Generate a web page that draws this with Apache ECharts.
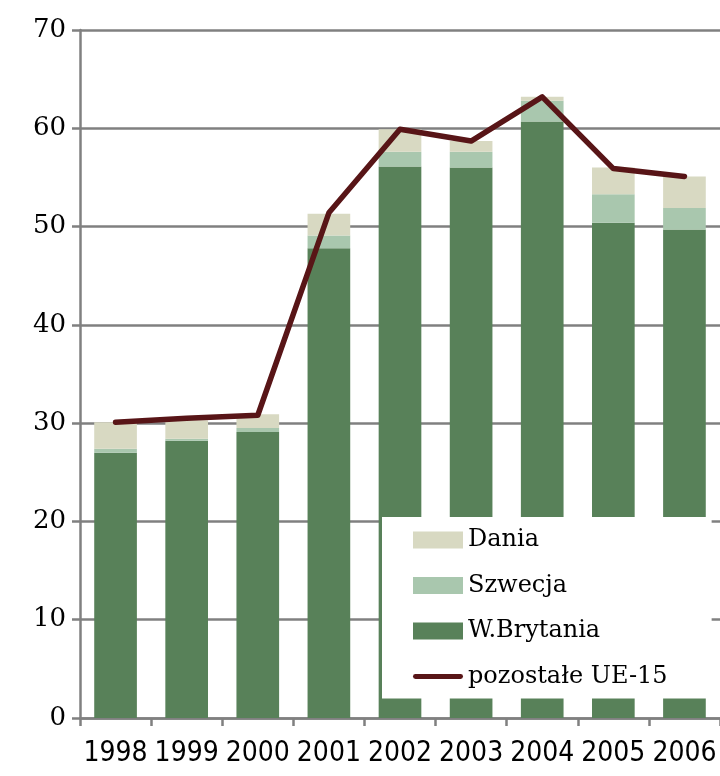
<!DOCTYPE html>
<html>
<head>
<meta charset="utf-8">
<script src="https://cdn.jsdelivr.net/npm/echarts@6/dist/echarts.min.js"></script>
<style>html,body{margin:0;padding:0;background:#fff}#c{width:720px;height:776px}</style>
</head>
<body>
<div id="c"></div>
<script>
const years = ['1998','1999','2000','2001','2002','2003','2004','2005','2006'];
const wBrytania = [27.0, 28.2, 29.1, 47.8, 56.1, 56.0, 60.7, 50.4, 49.7];
const szwecja = [0.4, 0.2, 0.4, 1.3, 1.5, 1.6, 2.1, 2.9, 2.2];
const dania = [2.7, 1.9, 1.4, 2.2, 2.3, 1.1, 0.4, 2.7, 3.2];
const pozostale = [30.1, 30.5, 30.8, 51.4, 59.9, 58.7, 63.2, 55.9, 55.1];
const yTicks = [0, 10, 20, 30, 40, 50, 60, 70];

const chart = echarts.init(document.getElementById('c'));
const gray = '#808080';
const lineColor = '#581517';
chart.setOption({
  animation: false,
  backgroundColor: '#fff',
  grid: { left: 80, right: -3, top: 30, bottom: 58 },
  legend: {
    orient: 'vertical',
    left: 382, top: 517,
    padding: [11, 44, 10, 31],
    backgroundColor: '#fff',
    itemWidth: 50, itemHeight: 17, itemGap: 21.5,
    textStyle: { fontFamily: 'DejaVu Serif', fontSize: 24, color: '#000', lineHeight: 20, fontWeight: 'normal' },
    data: [
      { name: 'Dania', icon: 'rect' },
      { name: 'Szwecja', icon: 'rect' },
      { name: 'W.Brytania', icon: 'rect' },
      { name: 'pozostałe UE-15', icon: 'path://M2,0 L48,0 A2.5,2.5 0 0 1 48,5 L2,5 A2.5,2.5 0 0 1 2,0 Z', itemStyle: { color: lineColor } }
    ]
  },
  xAxis: {
    type: 'category',
    data: years,
    axisLine: { lineStyle: { color: gray, width: 2.5 } },
    axisTick: { show: true, interval: 0, length: 8, lineStyle: { color: gray, width: 2.5 } },
    axisLabel: { interval: 0, margin: 22, color: '#000', fontSize: 28, fontFamily: '"DejaVu Sans Condensed", "Liberation Sans Narrow", "DejaVu Sans", sans-serif' }
  },
  yAxis: {
    type: 'value',
    min: yTicks[0], max: yTicks[yTicks.length - 1], interval: 10,
    axisLine: { show: true, lineStyle: { color: gray, width: 2.5 } },
    axisTick: { show: true, length: 8, lineStyle: { color: gray, width: 2.5 } },
    splitLine: { lineStyle: { color: gray, width: 2.5 } },
    axisLabel: { margin: 14, color: '#000', fontSize: 26, fontFamily: '"DejaVu Serif", serif' }
  },
  series: [
    { name: 'W.Brytania', type: 'bar', stack: 's', data: wBrytania, barCategoryGap: '40%', itemStyle: { color: '#588159' } },
    { name: 'Szwecja', type: 'bar', stack: 's', data: szwecja, itemStyle: { color: '#a9c7ae' } },
    { name: 'Dania', type: 'bar', stack: 's', data: dania, itemStyle: { color: '#d8d9c2' } },
    { name: 'pozostałe UE-15', type: 'line', data: pozostale, symbol: 'none', z: 3,
      lineStyle: { color: lineColor, width: 5.5, cap: 'round', join: 'round' }, itemStyle: { color: lineColor } }
  ]
});
</script>
</body>
</html>
